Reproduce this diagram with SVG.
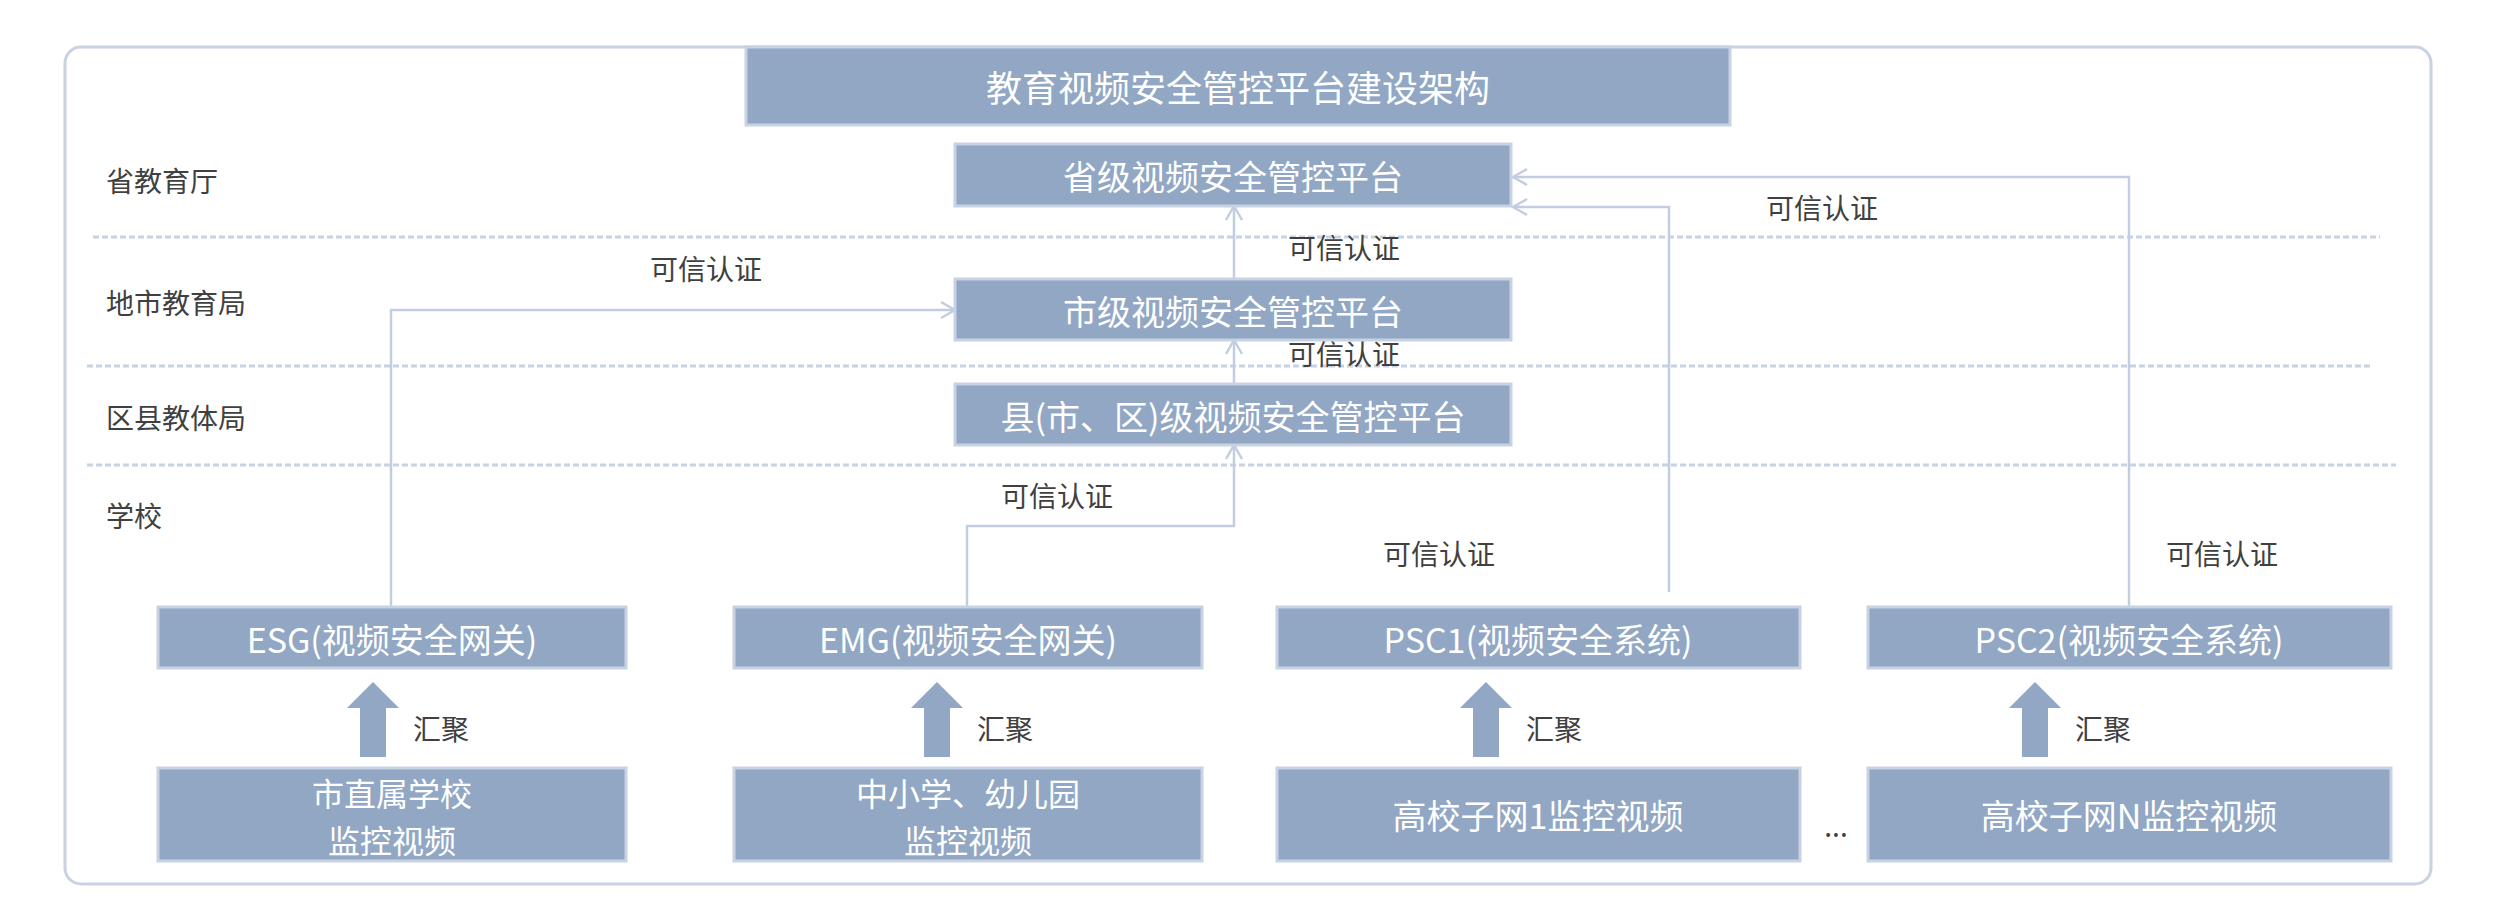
<svg xmlns="http://www.w3.org/2000/svg" width="2493" height="915" viewBox="0 0 2493 915">
<style>
.box{fill:#91a7c4;stroke:#c7d2e3;stroke-width:3}
.bt{fill:#fff;font-family:"Noto Sans CJK SC","Liberation Sans",sans-serif;font-size:34px;text-anchor:middle;dominant-baseline:central}
.bt2{font-size:32px}
.lb{fill:#404040;font-family:"Noto Sans CJK SC","Liberation Sans",sans-serif;font-size:28px;dominant-baseline:central}
.lc{text-anchor:middle}
.dash{stroke:#c8d2e2;stroke-width:3;stroke-dasharray:6 3}
.ln{fill:none;stroke:#c3cde0;stroke-width:2.5}
.fat{fill:#91a7c4}
</style>
<defs>
<marker id="ah" viewBox="0 0 20 20" refX="18" refY="10" markerWidth="20" markerHeight="20" markerUnits="userSpaceOnUse" orient="auto">
<path d="M4,2 L18,10 L4,18" fill="none" stroke="#c3cde0" stroke-width="2.5"/>
</marker>
</defs>
<rect x="65" y="47" width="2366" height="837" rx="16" fill="#fff" stroke="#c8d2e2" stroke-width="3"/>
<line class="dash" x1="93" y1="237" x2="2380" y2="237"/>
<line class="dash" x1="87" y1="366" x2="2372" y2="366"/>
<line class="dash" x1="87" y1="465" x2="2396" y2="465"/>
<text class="lb" x="106" y="180">省教育厅</text>
<text class="lb" x="106" y="302">地市教育局</text>
<text class="lb" x="106" y="417">区县教体局</text>
<text class="lb" x="106" y="515">学校</text>
<g id="connectors">
<path class="ln" d="M1234,384 V340" marker-end="url(#ah)"/>
<path class="ln" d="M1234,279 V206" marker-end="url(#ah)"/>
<path class="ln" d="M391,607 V310 H955" marker-end="url(#ah)"/>
<path class="ln" d="M967,607 V526 H1234 V445" marker-end="url(#ah)"/>
<path class="ln" d="M1669,592 V207 H1513" marker-end="url(#ah)"/>
<path class="ln" d="M2129,607 V177 H1513" marker-end="url(#ah)"/>
<text class="lb lc" x="706" y="268">可信认证</text>
<text class="lb lc" x="1344" y="247">可信认证</text>
<text class="lb lc" x="1344" y="353">可信认证</text>
<text class="lb lc" x="1822" y="207">可信认证</text>
<text class="lb lc" x="1057" y="495">可信认证</text>
<text class="lb lc" x="1439" y="553">可信认证</text>
<text class="lb lc" x="2222" y="553">可信认证</text>
<path class="fat" d="M373,682 L399,708 L386,708 L386,757 L360,757 L360,708 L347,708 Z"/>
<path class="fat" d="M937,682 L963,708 L950,708 L950,757 L924,757 L924,708 L911,708 Z"/>
<path class="fat" d="M1486,682 L1512,708 L1499,708 L1499,757 L1473,757 L1473,708 L1460,708 Z"/>
<path class="fat" d="M2035,682 L2061,708 L2048,708 L2048,757 L2022,757 L2022,708 L2009,708 Z"/>
<text class="lb" x="413" y="728">汇聚</text>
<text class="lb" x="977" y="728">汇聚</text>
<text class="lb" x="1526" y="728">汇聚</text>
<text class="lb" x="2075" y="728">汇聚</text>
<text class="lb lc" x="1836" y="825">...</text>
</g>
<g id="title"><rect class="box" x="746" y="47" width="984" height="78"/><text class="bt" x="1238" y="86" style="font-size:36px">教育视频安全管控平台建设架构</text></g>
<g id="province"><rect class="box" x="955" y="144" width="556" height="62"/><text class="bt" x="1233" y="175">省级视频安全管控平台</text></g>
<g id="city"><rect class="box" x="955" y="279" width="556" height="61"/><text class="bt" x="1233" y="310">市级视频安全管控平台</text></g>
<g id="county"><rect class="box" x="955" y="384" width="556" height="61"/><text class="bt" x="1233" y="415">县(市、区)级视频安全管控平台</text></g>
<g id="esg"><rect class="box" x="158" y="607" width="468" height="61"/><text class="bt" x="392" y="638">ESG(视频安全网关)</text></g>
<g id="emg"><rect class="box" x="734" y="607" width="468" height="61"/><text class="bt" x="968" y="638">EMG(视频安全网关)</text></g>
<g id="psc1"><rect class="box" x="1277" y="607" width="523" height="61"/><text class="bt" x="1538" y="638">PSC1(视频安全系统)</text></g>
<g id="psc2"><rect class="box" x="1868" y="607" width="523" height="61"/><text class="bt" x="2129" y="638">PSC2(视频安全系统)</text></g>
<g id="src1"><rect class="box" x="158" y="768" width="468" height="93"/><text class="bt bt2" x="392" y="792">市直属学校</text><text class="bt bt2" x="392" y="839">监控视频</text></g>
<g id="src2"><rect class="box" x="734" y="768" width="468" height="93"/><text class="bt bt2" x="968" y="792">中小学、幼儿园</text><text class="bt bt2" x="968" y="839">监控视频</text></g>
<g id="src3"><rect class="box" x="1277" y="768" width="523" height="93"/><text class="bt" x="1538" y="814">高校子网1监控视频</text></g>
<g id="src4"><rect class="box" x="1868" y="768" width="523" height="93"/><text class="bt" x="2129" y="814">高校子网N监控视频</text></g>
</svg>
